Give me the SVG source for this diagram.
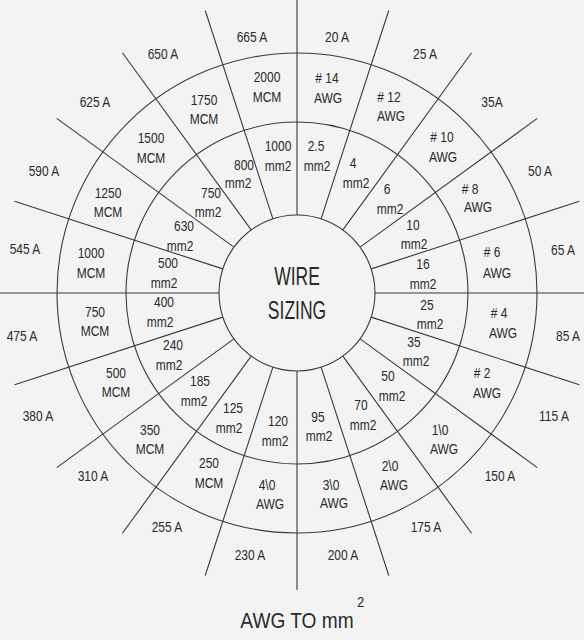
<svg xmlns="http://www.w3.org/2000/svg" width="584" height="640" viewBox="0 0 584 640">
<style>
.bg{fill:#f3f3f3}
.ln{stroke:#3a3a3a;stroke-width:1.1;fill:none}
text{font-family:"Liberation Sans",Arial,sans-serif;fill:#2a2a2a;text-anchor:middle}
.s{font-size:15px}
.big{font-size:25px}
.ttl{font-size:22px}
.sup{font-size:15px}
</style>
<rect class="bg" x="0" y="0" width="584" height="640"/>
<g id="rings" transform="translate(297,293)">
<circle class="ln" r="78"/>
<circle class="ln" r="171"/>
<circle class="ln" r="240"/>
</g>
<g id="connectors" transform="translate(297,293)">
<line class="ln" x1="0" y1="-78" x2="0" y2="-297" transform="rotate(0)"/>
<line class="ln" x1="0" y1="-78" x2="0" y2="-297" transform="rotate(18)"/>
<line class="ln" x1="0" y1="-78" x2="0" y2="-297" transform="rotate(36)"/>
<line class="ln" x1="0" y1="-78" x2="0" y2="-297" transform="rotate(54)"/>
<line class="ln" x1="0" y1="-78" x2="0" y2="-297" transform="rotate(72)"/>
<line class="ln" x1="0" y1="-78" x2="0" y2="-297" transform="rotate(90)"/>
<line class="ln" x1="0" y1="-78" x2="0" y2="-297" transform="rotate(108)"/>
<line class="ln" x1="0" y1="-78" x2="0" y2="-297" transform="rotate(126)"/>
<line class="ln" x1="0" y1="-78" x2="0" y2="-297" transform="rotate(144)"/>
<line class="ln" x1="0" y1="-78" x2="0" y2="-297" transform="rotate(162)"/>
<line class="ln" x1="0" y1="-78" x2="0" y2="-297" transform="rotate(180)"/>
<line class="ln" x1="0" y1="-78" x2="0" y2="-297" transform="rotate(198)"/>
<line class="ln" x1="0" y1="-78" x2="0" y2="-297" transform="rotate(216)"/>
<line class="ln" x1="0" y1="-78" x2="0" y2="-297" transform="rotate(234)"/>
<line class="ln" x1="0" y1="-78" x2="0" y2="-297" transform="rotate(252)"/>
<line class="ln" x1="0" y1="-78" x2="0" y2="-297" transform="rotate(270)"/>
<line class="ln" x1="0" y1="-78" x2="0" y2="-297" transform="rotate(288)"/>
<line class="ln" x1="0" y1="-78" x2="0" y2="-297" transform="rotate(306)"/>
<line class="ln" x1="0" y1="-78" x2="0" y2="-297" transform="rotate(324)"/>
<line class="ln" x1="0" y1="-78" x2="0" y2="-297" transform="rotate(342)"/>
</g>
<g id="center" transform="scale(0.7,1)">
<text class="big" x="424.3" y="285">WIRE</text>
<text class="big" x="424.3" y="319">SIZING</text>
</g>
<g id="amps" class="s" transform="scale(0.8,1)">
<text class="s" x="315" y="42">665 A</text>
<text class="s" x="203.75" y="59">650 A</text>
<text class="s" x="118.75" y="107">625 A</text>
<text class="s" x="55" y="176">590 A</text>
<text class="s" x="31.25" y="254">545 A</text>
<text class="s" x="27.5" y="341">475 A</text>
<text class="s" x="47.5" y="421">380 A</text>
<text class="s" x="116.25" y="481">310 A</text>
<text class="s" x="208.75" y="532">255 A</text>
<text class="s" x="312.5" y="560">230 A</text>
<text class="s" x="428.75" y="560">200 A</text>
<text class="s" x="532.5" y="532">175 A</text>
<text class="s" x="625" y="481">150 A</text>
<text class="s" x="692.5" y="421">115 A</text>
<text class="s" x="710" y="341">85 A</text>
<text class="s" x="703.75" y="255">65 A</text>
<text class="s" x="675" y="176">50 A</text>
<text class="s" x="615" y="107">35A</text>
<text class="s" x="531.25" y="59">25 A</text>
<text class="s" x="421.25" y="42">20 A</text>
</g>
<g id="awg-mcm" transform="scale(0.8,1)">
<text class="s" x="333.75" y="82">2000</text><text class="s" x="333.75" y="102">MCM</text>
<text class="s" x="255" y="105">1750</text><text class="s" x="255" y="124">MCM</text>
<text class="s" x="188.75" y="143">1500</text><text class="s" x="188.75" y="163">MCM</text>
<text class="s" x="135" y="198">1250</text><text class="s" x="135" y="217">MCM</text>
<text class="s" x="113.75" y="258">1000</text><text class="s" x="113.75" y="278">MCM</text>
<text class="s" x="118.75" y="317">750</text><text class="s" x="118.75" y="336">MCM</text>
<text class="s" x="145" y="378">500</text><text class="s" x="145" y="397">MCM</text>
<text class="s" x="187.5" y="435">350</text><text class="s" x="187.5" y="454">MCM</text>
<text class="s" x="261.25" y="468">250</text><text class="s" x="261.25" y="488">MCM</text>
<text class="s" x="333.75" y="490">4\0</text><text class="s" x="337.5" y="509">AWG</text>
<text class="s" x="413.75" y="490">3\0</text><text class="s" x="417.5" y="508">AWG</text>
<text class="s" x="487.5" y="471">2\0</text><text class="s" x="492.5" y="490">AWG</text>
<text class="s" x="550" y="435">1\0</text><text class="s" x="555" y="454">AWG</text>
<text class="s" x="602.5" y="378"># 2</text><text class="s" x="608.75" y="398">AWG</text>
<text class="s" x="623.75" y="318"># 4</text><text class="s" x="628.75" y="338">AWG</text>
<text class="s" x="615" y="257"># 6</text><text class="s" x="621.25" y="278">AWG</text>
<text class="s" x="587.5" y="194"># 8</text><text class="s" x="597.5" y="212">AWG</text>
<text class="s" x="552.5" y="142"># 10</text><text class="s" x="553.75" y="162">AWG</text>
<text class="s" x="486.25" y="102"># 12</text><text class="s" x="488.75" y="121">AWG</text>
<text class="s" x="408.75" y="83"># 14</text><text class="s" x="410" y="103">AWG</text>
</g>
<g id="mm2" transform="scale(0.8,1)">
<text class="s" x="347.5" y="151">1000</text><text class="s" x="347.5" y="171">mm2</text>
<text class="s" x="305" y="170">800</text><text class="s" x="297.5" y="188">mm2</text>
<text class="s" x="263.75" y="198">750</text><text class="s" x="260" y="217">mm2</text>
<text class="s" x="230" y="231">630</text><text class="s" x="225" y="251">mm2</text>
<text class="s" x="210" y="268">500</text><text class="s" x="205" y="288">mm2</text>
<text class="s" x="205" y="307">400</text><text class="s" x="200" y="327">mm2</text>
<text class="s" x="216.25" y="350">240</text><text class="s" x="211.25" y="370">mm2</text>
<text class="s" x="250" y="386">185</text><text class="s" x="242.5" y="406">mm2</text>
<text class="s" x="291.25" y="413">125</text><text class="s" x="286.25" y="433">mm2</text>
<text class="s" x="347.5" y="426">120</text><text class="s" x="343.75" y="446">mm2</text>
<text class="s" x="397.5" y="422">95</text><text class="s" x="398.75" y="441">mm2</text>
<text class="s" x="451.25" y="410">70</text><text class="s" x="453.75" y="430">mm2</text>
<text class="s" x="485" y="381">50</text><text class="s" x="490" y="401">mm2</text>
<text class="s" x="517.5" y="347">35</text><text class="s" x="520" y="366">mm2</text>
<text class="s" x="533.75" y="310">25</text><text class="s" x="537.5" y="329">mm2</text>
<text class="s" x="528.75" y="269">16</text><text class="s" x="528.75" y="289">mm2</text>
<text class="s" x="516.25" y="230">10</text><text class="s" x="517.5" y="249">mm2</text>
<text class="s" x="483.75" y="194">6</text><text class="s" x="487.5" y="214">mm2</text>
<text class="s" x="441.25" y="168">4</text><text class="s" x="445" y="188">mm2</text>
<text class="s" x="395" y="151">2.5</text><text class="s" x="396.25" y="171">mm2</text>
</g>
<g id="title" transform="scale(0.87,1)">
<text class="ttl" x="341.4" y="628">AWG TO mm</text>
<text class="sup" x="414.4" y="607">2</text>
</g>
</svg>
